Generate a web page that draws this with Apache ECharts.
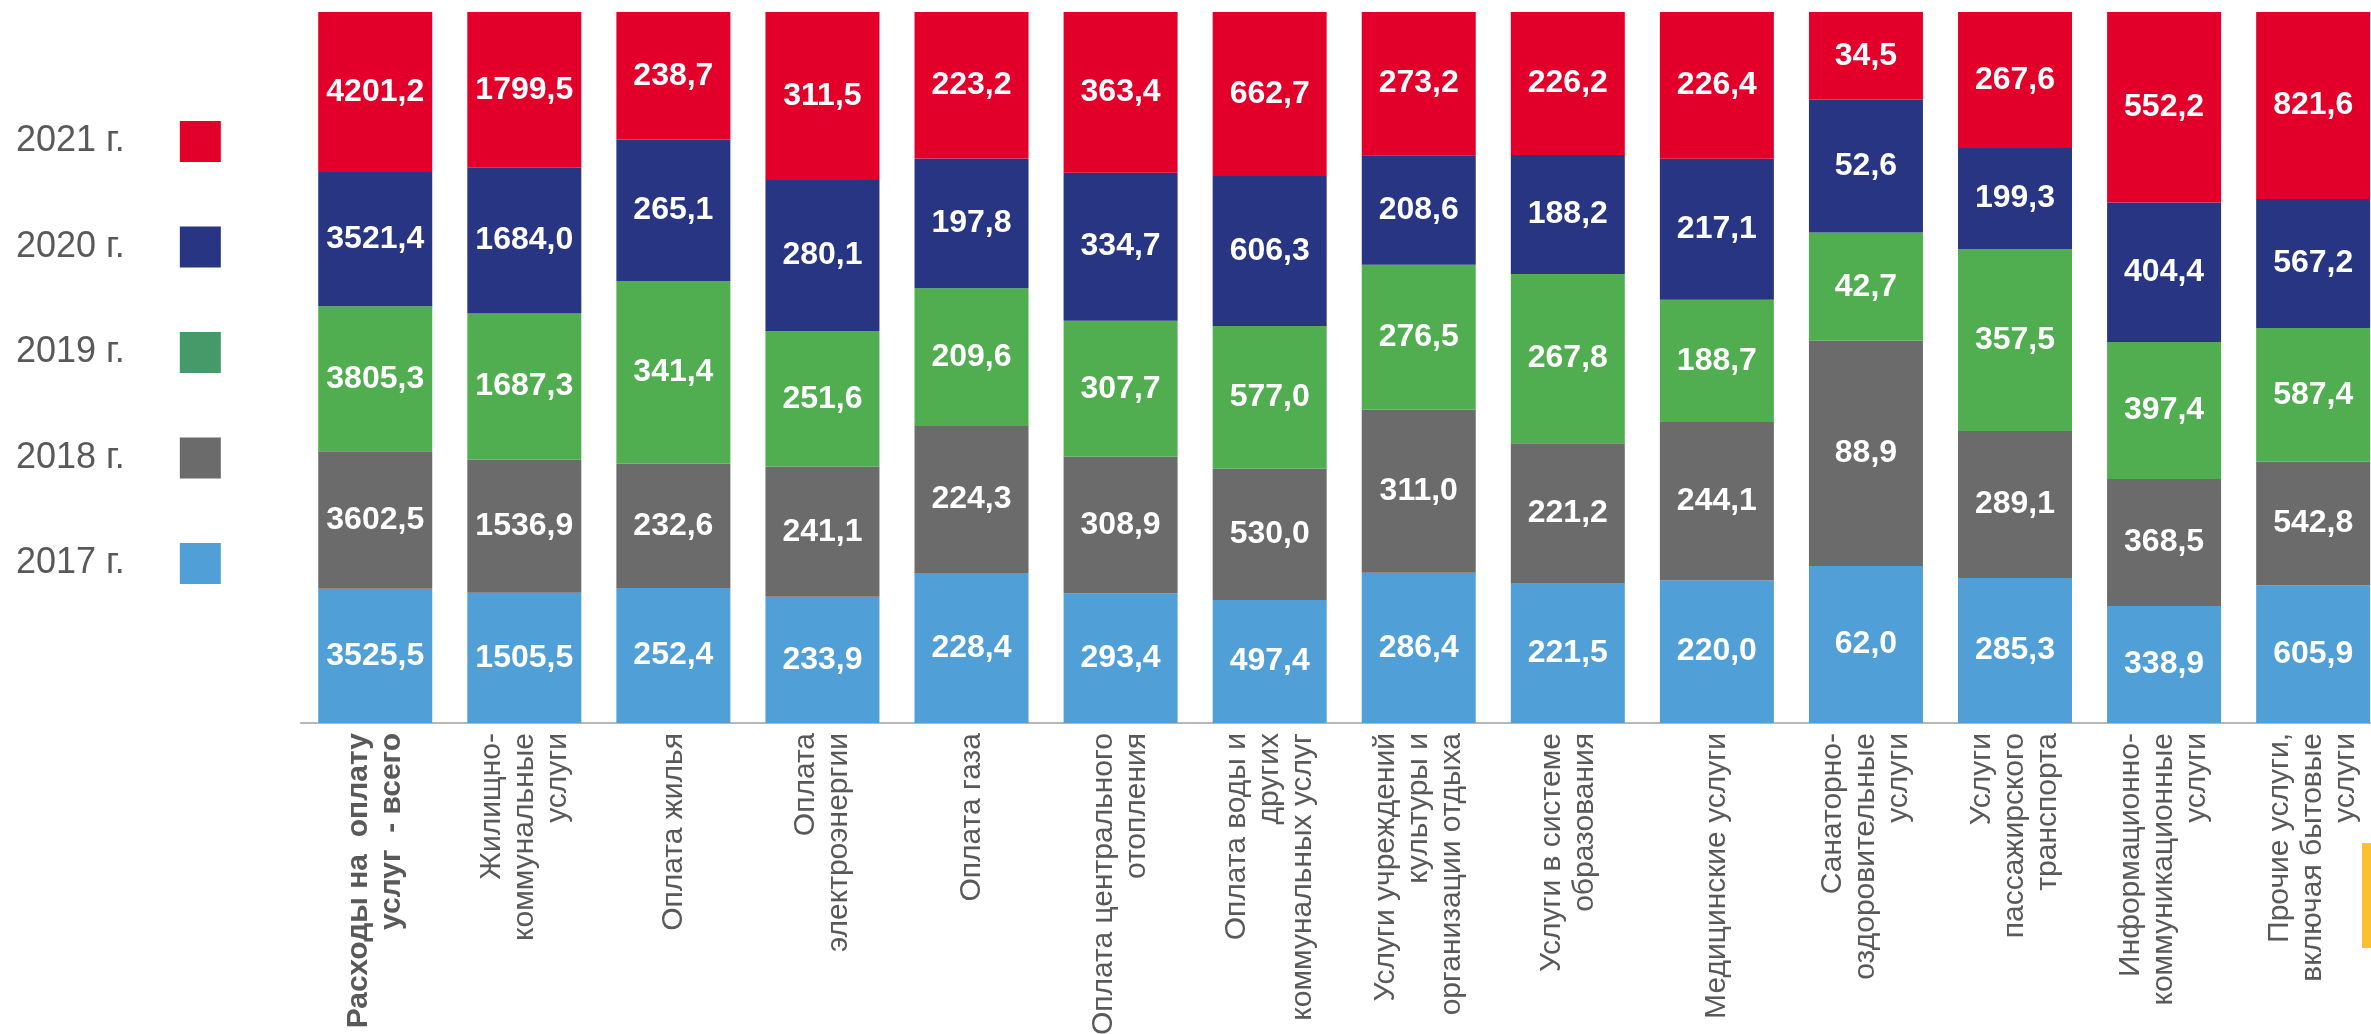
<!DOCTYPE html>
<html>
<head>
<meta charset="utf-8">
<script src="https://cdn.jsdelivr.net/npm/echarts@6/dist/echarts.min.js"></script>
<style>
html,body{margin:0;padding:0;background:#fff;}
#chart{width:2371px;height:1034px;}
</style>
</head>
<body>
<div id="chart"></div>
<script>
const categories = [
  'Расходы на  оплату\nуслуг  - всего',
  'Жилищно-\nкоммунальные\nуслуги',
  'Оплата жилья',
  'Оплата\nэлектроэнергии',
  'Оплата газа',
  'Оплата центрального\nотопления',
  'Оплата воды и\nдругих\nкоммунальных услуг',
  'Услуги учреждений\nкультуры и\nорганизации отдыха',
  'Услуги в системе\nобразования',
  'Медицинские услуги',
  'Санаторно-\nоздоровительные\nуслуги',
  'Услуги\nпассажирского\nтранспорта',
  'Информационно-\nкоммуникационные\nуслуги',
  'Прочие услуги,\nвключая бытовые\nуслуги'
];
const seriesNames = ['2017 г.', '2018 г.', '2019 г.', '2020 г.', '2021 г.'];
const values2017 = [3525.5, 1505.5, 252.4, 233.9, 228.4, 293.4, 497.4, 286.4, 221.5, 220.0, 62.0, 285.3, 338.9, 605.9];
const values2018 = [3602.5, 1536.9, 232.6, 241.1, 224.3, 308.9, 530.0, 311.0, 221.2, 244.1, 88.9, 289.1, 368.5, 542.8];
const values2019 = [3805.3, 1687.3, 341.4, 251.6, 209.6, 307.7, 577.0, 276.5, 267.8, 188.7, 42.7, 357.5, 397.4, 587.4];
const values2020 = [3521.4, 1684.0, 265.1, 280.1, 197.8, 334.7, 606.3, 208.6, 188.2, 217.1, 52.6, 199.3, 404.4, 567.2];
const values2021 = [4201.2, 1799.5, 238.7, 311.5, 223.2, 363.4, 662.7, 273.2, 226.2, 226.4, 34.5, 267.6, 552.2, 821.6];
const barColors = ['#509FD7', '#6B6B6B', '#50AE50', '#283582', '#E2002B'];
const legendColors = ['#509FD7', '#6B6B6B', '#469A69', '#283582', '#E2002B'];

const raw = [values2017, values2018, values2019, values2020, values2021];
const totals = categories.map((c, i) => raw.reduce((s, arr) => s + arr[i], 0));
const fmt = v => v.toFixed(1).replace('.', ',');
const FONT = "'Liberation Sans', Arial, sans-serif";

const chart = echarts.init(document.getElementById('chart'), null, {renderer: 'canvas'});
chart.setOption({
  animation: false,
  backgroundColor: '#fff',
  legend: {
    orient: 'vertical',
    left: 16,
    top: 121,
    padding: 0,
    align: 'right',
    itemWidth: 41,
    itemHeight: 41,
    itemGap: 64.5,
    icon: 'rect',
    selectedMode: false,
    textStyle: {fontFamily: FONT, fontSize: 36, color: '#595959', padding: [0, 50, 0, 0]},
    data: [4, 3, 2, 1, 0].map(k => ({name: seriesNames[k], itemStyle: {color: legendColors[k]}}))
  },
  grid: {left: 300.7, width: 2087, top: 12, bottom: 311, containLabel: false, outerBoundsMode: 'none'},
  xAxis: {
    type: 'category',
    data: categories,
    axisLine: {lineStyle: {color: '#A0A0A0', width: 1.5}},
    axisTick: {length: 9, lineStyle: {color: '#8C8C8C', width: 1.5}},
    axisLabel: {
      interval: 0,
      rotate: 90,
      margin: 10,
      fontFamily: FONT,
      fontSize: 30,
      lineHeight: 33,
      color: '#595959',
      formatter: (v, i) => i === 0 ? v.split('\n').map(s => '{b|' + s + '}').join('\n') : v,
      rich: {b: {fontFamily: FONT, fontSize: 30, lineHeight: 33, fontWeight: 'bold', color: '#595959'}}
    }
  },
  yAxis: {type: 'value', min: 0, max: 100, show: false, splitLine: {show: false}},
  series: raw.map((arr, k) => ({
    name: seriesNames[k],
    type: 'bar',
    stack: 'total',
    barWidth: 114,
    itemStyle: {color: barColors[k]},
    label: {
      show: true,
      position: 'inside',
      color: '#fff',
      fontFamily: FONT,
      fontWeight: 'bold',
      fontSize: 32,
      formatter: p => fmt(raw[k][p.dataIndex])
    },
    data: arr.map((v, i) => v / totals[i] * 100)
  })),
  graphic: [{
    type: 'rect',
    shape: {x: 2362, y: 843, width: 9, height: 105},
    style: {fill: '#FCC02E'},
    silent: true
  }]
});
</script>
</body>
</html>
